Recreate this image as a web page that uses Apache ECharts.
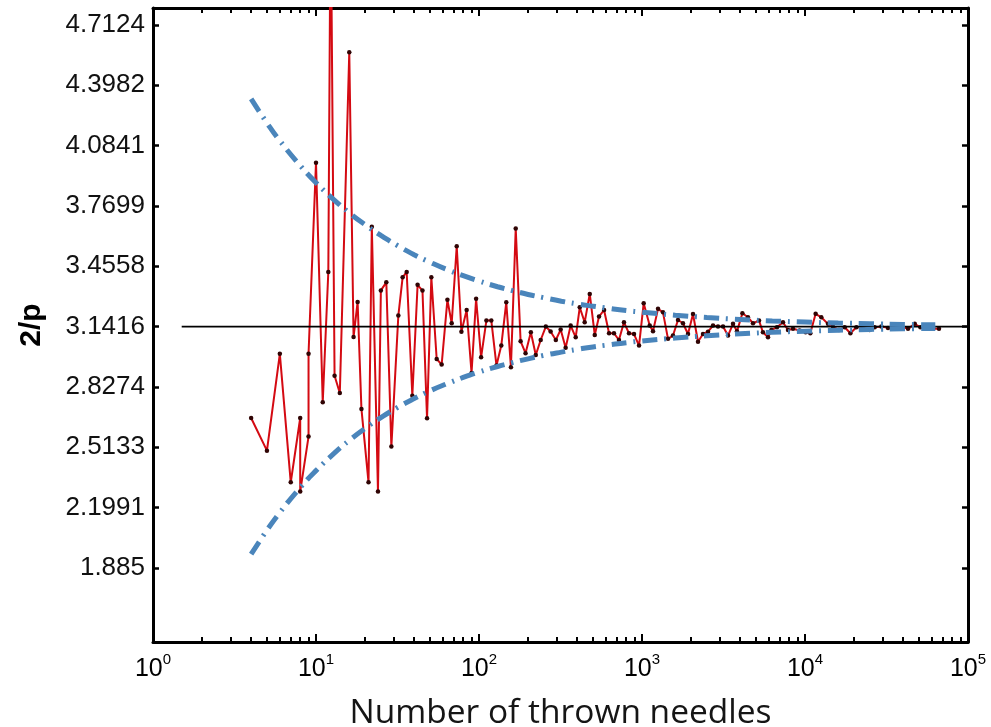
<!DOCTYPE html>
<html>
<head>
<meta charset="utf-8">
<script src="https://cdn.jsdelivr.net/npm/echarts@6/dist/echarts.min.js"></script>
<style>html,body{margin:0;padding:0;background:#fff;}#c{width:991px;height:727px;}</style>
</head>
<body>
<div id="c"></div>
<script>
// ---- data ----
var yTickLabels = ['1.885','2.1991','2.5133','2.8274','3.1416','3.4558','3.7699','4.0841','4.3982','4.7124'];
var xTickValues = [1, 10, 100, 1000, 10000, 100000];
var xTickExponents = ['0','1','2','3','4','5'];
var minorTickValues = [2,3,4,5,6,7,8,9,20,30,40,50,60,70,80,90,200,300,400,500,600,700,800,900,
  2000,3000,4000,5000,6000,7000,8000,9000,20000,30000,40000,50000,60000,70000,80000,90000];

var needles = [4,5,6,7,8,8,9,9,10,11,11.9,12.3,13,14,16,17,18,19,21,22,24,25,27,29,32,34,36,39,42,45,48,51,55,59,64,68,73,78,84,90,96,
  103,111,119,128,137,147,157,168,180,193,208,223,239,257,275,296,317,340,365,392,415,445,478,513,545,585,628,673,722,775,832,893,959,
  1024,1115,1168,1254,1345,1444,1549,1663,1784,1915,2056,2206,2367,2541,2727,2926,3141,3371,3617,3826,4130,4467,4797,5223,5521,5929,
  6221,6733,7328,7863,8440,9272,10090,10780,11620,12590,13830,14840,16170,17520,18990,20660,22680,24930,26770,29420,32310,35500,
  39030,42860,47120,51050,55580,60990,66370];
var estimates = [2.666,2.496,3.0,2.331,2.666,2.283,2.569,3.0,3.995,2.748,3.426,5.4,2.886,2.796,4.57,3.087,3.27,2.713,2.331,3.662,2.284,3.33,3.372,2.517,3.199,3.398,3.426,2.782,3.359,3.329,2.664,3.398,2.973,2.944,3.281,3.159,3.56,3.115,3.228,2.9,3.286,
  2.982,3.173,3.173,2.939,3.043,3.268,2.93,3.652,3.065,3.003,3.112,2.994,3.072,3.142,3.116,3.072,3.126,3.031,3.147,3.086,3.242,3.164,3.312,3.098,3.194,3.228,3.107,3.107,3.072,3.164,3.107,3.103,3.043,
  3.263,3.147,3.117,3.234,3.216,3.078,3.095,3.176,3.159,3.103,3.207,3.063,3.103,3.115,3.147,3.142,3.142,3.095,3.156,3.117,3.211,3.19,3.159,3.173,3.112,3.086,
  3.124,3.138,3.164,3.124,3.13,3.121,3.112,3.107,3.208,3.19,3.156,3.142,3.124,3.138,3.107,3.138,3.138,3.124,3.138,3.142,3.135,3.138,
  3.142,3.13,3.156,3.138,3.138,3.13,3.13];

var refX = [1.5, 100000];
var refY = [3.1416, 3.1416];

var boundN = [4,5,6,8,10,13,16,20,25,32,40,50,63,80,100,130,160,200,250,320,400,500,630,800,1000,1600,2500,4000,6300,10000,16000,25000,40000,63000];
var upperBound = [4.327,4.202,4.109,3.980,3.891,3.799,3.734,3.672,3.616,3.561,3.516,3.477,3.440,3.407,3.379,3.349,3.329,3.309,3.292,3.274,3.260,3.248,3.236,3.225,3.217,3.201,3.189,3.179,3.171,3.165,3.160,3.157,3.153,3.151];
var lowerBound = [1.957,2.082,2.174,2.304,2.392,2.484,2.549,2.612,2.668,2.723,2.767,2.807,2.843,2.877,2.905,2.934,2.954,2.974,2.992,3.009,3.023,3.036,3.047,3.058,3.067,3.082,3.094,3.104,3.112,3.118,3.123,3.127,3.130,3.132];

function zip(a, b) { return a.map(function (v, i) { return [v, b[i]]; }); }
var yTickValues = yTickLabels.map(parseFloat);

var chart = echarts.init(document.getElementById('c'), null, {renderer: 'canvas'});
var axisLine = {show: true, lineStyle: {color: '#000', width: 3}};
var blue = '#4a85bb';
var dashPattern = [15, 7, 2, 7];

function logX(pos, opts) {
  var base = {
    type: 'log', logBase: 10, min: 1, max: 100000, position: pos, gridIndex: 0,
    axisLine: axisLine, splitLine: {show: false},
    axisTick: {show: true, inside: true, length: 8, lineStyle: {color: '#000', width: 2}, customValues: xTickValues},
    axisLabel: {show: false}
  };
  return Object.assign(base, opts || {});
}
function minorX(pos) {
  return {
    type: 'log', logBase: 10, min: 1, max: 100000, position: pos, gridIndex: 0,
    axisLine: {show: false}, splitLine: {show: false},
    axisTick: {show: true, inside: true, length: 5, lineStyle: {color: '#000', width: 2}, customValues: minorTickValues},
    axisLabel: {show: false}
  };
}

chart.setOption({
  animation: false,
  backgroundColor: '#fff',
  grid: {left: 153, right: 23, top: 8, bottom: 85, containLabel: false, outerBoundsMode: 'none'},
  xAxis: [
    logX('bottom', {
      name: 'Number of thrown needles', nameLocation: 'middle', nameGap: 54,
      nameTextStyle: {fontFamily: 'Open Sans', fontSize: 33.5, color: '#151515'},
      axisLabel: {
        show: true, margin: 10, customValues: xTickValues,
        formatter: function (v) {
          var i = xTickValues.indexOf(v);
          var e = i >= 0 ? xTickExponents[i] : String(Math.round(Math.log10(v)));
          return '{b|10}{s|' + e + '}';
        },
        rich: {
          b: {fontFamily: 'Liberation Sans', fontSize: 25, color: '#000', verticalAlign: 'bottom', lineHeight: 30},
          s: {fontFamily: 'Liberation Sans', fontSize: 15, color: '#000', verticalAlign: 'top', lineHeight: 30}
        }
      }
    }),
    minorX('bottom'),
    logX('top'),
    minorX('top')
  ],
  yAxis: [
    {
      type: 'value', min: 1.5, max: 4.8, position: 'left', gridIndex: 0,
      name: '2/p', nameLocation: 'middle', nameGap: 106, nameRotate: 90,
      nameTextStyle: {fontFamily: 'Liberation Sans', fontWeight: 'bold', fontSize: 30, color: '#000'},
      axisLine: axisLine, splitLine: {show: false},
      axisTick: {show: true, inside: true, length: 6, lineStyle: {color: '#000', width: 2.5}, customValues: yTickValues},
      axisLabel: {
        show: true, margin: 8, customValues: yTickValues,
        fontFamily: 'Liberation Sans', fontSize: 26, color: '#111',
        formatter: function (v) {
          var i = yTickValues.indexOf(v);
          return i >= 0 ? yTickLabels[i] : '';
        }
      }
    },
    {
      type: 'value', min: 1.5, max: 4.8, position: 'right', gridIndex: 0,
      axisLine: axisLine, splitLine: {show: false},
      axisTick: {show: true, inside: true, length: 6, lineStyle: {color: '#000', width: 2.5}, customValues: yTickValues},
      axisLabel: {show: false}
    }
  ],
  series: [
    {
      type: 'line', name: 'estimate', xAxisIndex: 0, yAxisIndex: 0,
      data: zip(needles, estimates),
      showSymbol: true, showAllSymbol: true, symbol: 'circle', symbolSize: 4.5,
      itemStyle: {color: '#300404'},
      lineStyle: {color: '#d40a12', width: 2},
      z: 2, clip: true
    },
    {
      type: 'line', name: 'pi', xAxisIndex: 0, yAxisIndex: 0,
      data: zip(refX, refY), showSymbol: false,
      lineStyle: {color: '#000', width: 1.6}, z: 3
    },
    {
      type: 'line', name: 'upper', xAxisIndex: 0, yAxisIndex: 0,
      data: zip(boundN, upperBound), showSymbol: false, smooth: true,
      lineStyle: {color: blue, width: 5, type: dashPattern}, z: 4
    },
    {
      type: 'line', name: 'lower', xAxisIndex: 0, yAxisIndex: 0,
      data: zip(boundN, lowerBound), showSymbol: false, smooth: true,
      lineStyle: {color: blue, width: 5, type: dashPattern}, z: 4
    }
  ]
});
</script>
</body>
</html>
